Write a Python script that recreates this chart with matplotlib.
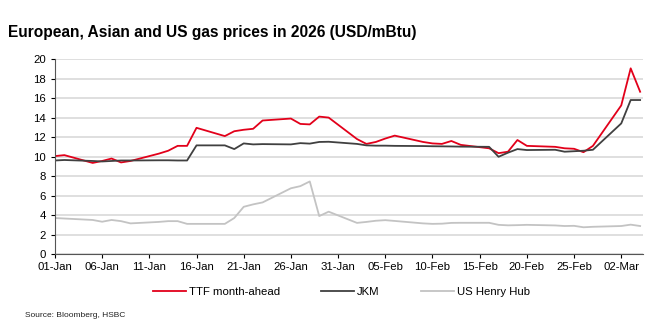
import matplotlib
matplotlib.use("Agg")
import matplotlib.pyplot as plt
import matplotlib.dates as mdates
import pandas as pd

plt.rcParams['font.family'] = ['Liberation Sans', 'DejaVu Sans']

# business days shown in the chart
dates = pd.to_datetime([
    '2026-01-01', '2026-01-02', '2026-01-05', '2026-01-06', '2026-01-07', '2026-01-08', '2026-01-09',
    '2026-01-12', '2026-01-13', '2026-01-14', '2026-01-15', '2026-01-16',
    '2026-01-19', '2026-01-20', '2026-01-21', '2026-01-22', '2026-01-23',
    '2026-01-26', '2026-01-27', '2026-01-28', '2026-01-29', '2026-01-30',
    '2026-02-02', '2026-02-03', '2026-02-04', '2026-02-05', '2026-02-06',
    '2026-02-09', '2026-02-10', '2026-02-11', '2026-02-12', '2026-02-13',
    '2026-02-16', '2026-02-17', '2026-02-18', '2026-02-19', '2026-02-20',
    '2026-02-23', '2026-02-24', '2026-02-25', '2026-02-26', '2026-02-27',
    '2026-03-02', '2026-03-03', '2026-03-04'])

ttf = [10.05, 10.15, 9.35, 9.55, 9.8, 9.4, 9.55,
       10.3, 10.6, 11.1, 11.1, 12.95,
       12.1, 12.6, 12.75, 12.85, 13.7,
       13.9, 13.35, 13.3, 14.1, 14.0,
       11.8, 11.3, 11.5, 11.85, 12.15,
       11.5, 11.35, 11.3, 11.6, 11.2,
       10.85, 10.35, 10.5, 11.7, 11.1,
       11.0, 10.85, 10.8, 10.45, 11.1,
       15.25, 19.05, 16.65]

jkm = [9.6, 9.65, 9.55, 9.5, 9.55, 9.6, 9.6,
       9.62, 9.62, 9.6, 9.6, 11.15,
       11.15, 10.77, 11.35, 11.25, 11.28,
       11.25, 11.38, 11.33, 11.5, 11.52,
       11.3, 11.15, 11.12, 11.12, 11.1,
       11.08, 11.06, 11.05, 11.04, 11.02,
       11.0, 9.98, 10.4, 10.77, 10.67,
       10.7, 10.5, 10.55, 10.6, 10.7,
       13.4, 15.8, 15.8]

henry_hub = [3.7, 3.65, 3.5, 3.32, 3.5, 3.38, 3.15,
             3.3, 3.38, 3.38, 3.1, 3.1,
             3.1, 3.7, 4.85, 5.1, 5.3,
             6.75, 6.97, 7.45, 3.9, 4.35,
             3.2, 3.3, 3.42, 3.48, 3.4,
             3.15, 3.1, 3.12, 3.2, 3.21,
             3.21, 3.0, 2.95, 2.97, 3.0,
             2.94, 2.88, 2.9, 2.75, 2.8,
             2.88, 3.02, 2.88]

fig = plt.figure(figsize=(6.54, 3.30), dpi=100)
ax = fig.add_axes([0.084, 0.23, 0.899, 0.591])

ax.plot(dates, ttf, color='#e2001a', lw=1.3, label='TTF month-ahead')
ax.plot(dates, jkm, color='#404040', lw=1.3, label='JKM')
ax.plot(dates, henry_hub, color='#c3c3c3', lw=1.3, label='US Henry Hub')

ax.set_ylim(0, 20)
ax.set_yticks(range(0, 21, 2))
ax.set_xlim(pd.Timestamp('2026-01-01'), pd.Timestamp('2026-03-04 07:00'))
ticks = pd.date_range('2026-01-01', '2026-03-04', freq='5D')
ax.set_xticks(ticks)
ax.xaxis.set_major_formatter(mdates.DateFormatter('%d-%b'))

ax.grid(axis='y', color='#d9d9d9', lw=1.2)
ax.set_axisbelow(True)
for s in ['top', 'right']:
    ax.spines[s].set_visible(False)
ax.spines['left'].set_color('#555555')
ax.spines['bottom'].set_color('#555555')
ax.tick_params(axis='both', labelsize=8.2, colors='black', length=3, width=0.8)
ax.tick_params(axis='x', pad=3)

fig.text(0.012, 0.90, 'European, Asian and US gas prices in 2026 (USD/mBtu)',
         fontsize=11.2, fontweight='bold', va='center', ha='left')

fig.legend(loc='center', bbox_to_anchor=(0.522, 0.115), ncol=3, frameon=False,
           fontsize=8.2, handlelength=2.9, handletextpad=0.25, columnspacing=3.6)

fig.text(0.038, 0.045, 'Source: Bloomberg, HSBC', fontsize=6, ha='left', va='center',
         color='#222222')

fig.savefig('out.png', dpi=100)
